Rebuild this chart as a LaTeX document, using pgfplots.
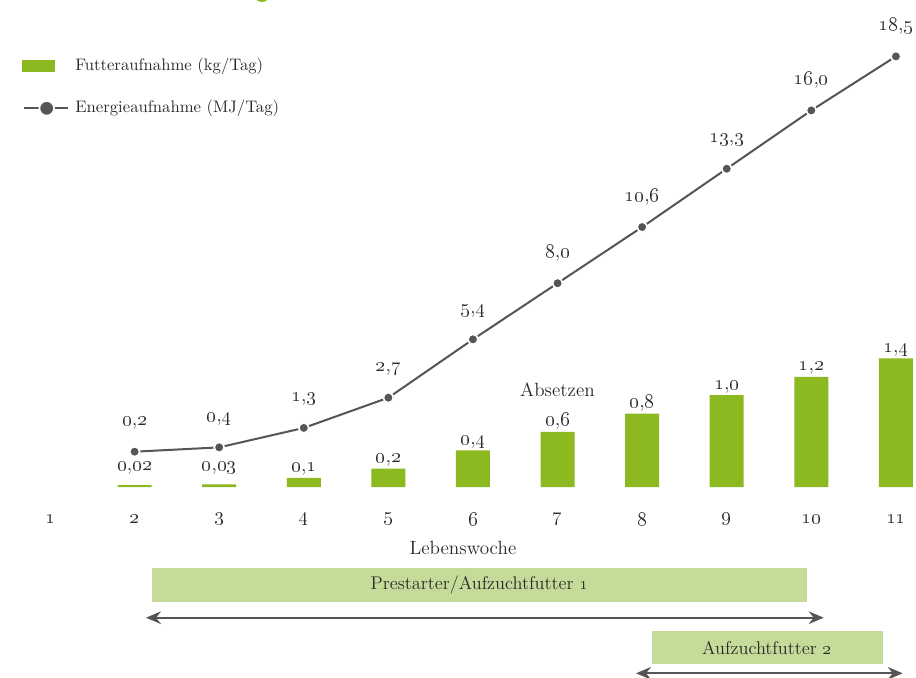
\documentclass[border=0pt]{standalone}
\usepackage{pgfplots}
\pgfplotsset{compat=1.18}
\usetikzlibrary{arrows.meta}
\definecolor{barGreen}{HTML}{8BB91F}
\definecolor{boxGreen}{HTML}{C5DB9A}
\definecolor{lineGray}{HTML}{555555}
\definecolor{txt}{HTML}{2A2A2A}
\newcommand\os[1]{\oldstylenums{#1}}
\newcommand\numfont{\fontsize{12}{14}\selectfont}
\newcommand\lblfont{\fontsize{11.5}{13}\selectfont}

\begin{document}
\begin{tikzpicture}[text=txt]
% bars: Futteraufnahme (kg/Tag)
\begin{axis}[
    scale only axis, width=545.6pt, height=268.2pt,
    xmin=0.45, xmax=11.2, ymin=0, ymax=4.869,
    axis x line*=bottom, axis y line=none,
    x axis line style={draw=none}, major tick length=0pt,
    xtick={1,...,11},
    xticklabels={\os{1},\os{2},\os{3},\os{4},\os{5},\os{6},\os{7},\os{8},\os{9},\os{10},\os{11}},
    xticklabel style={anchor=center, yshift=-19.2pt, font=\numfont, text=txt},
    xlabel={Lebenswoche},
    xlabel style={at={(axis description cs:0.5053,0)}, anchor=center, yshift=-36.6pt, font=\lblfont, text=txt},
    clip=false]
    \addplot[ybar, bar width=20.4pt, bar shift=0pt, fill=barGreen, draw=none,
        point meta=explicit symbolic, nodes near coords,
        every node near coord/.append style={anchor=base, inner sep=0pt, yshift=3.6pt, font=\numfont, text=txt}]
        coordinates {
            (2,0.02) [\relax]
            (3,0.03) [\relax]
            (4,0.1) [\os{0},\os{1}]
            (5,0.2) [\os{0},\os{2}]
            (6,0.4) [\os{0},\os{4}]
            (7,0.6) [\os{0},\os{6}]
            (8,0.8) [\os{0},\os{8}]
            (9,1.0) [\os{1},\os{0}]
            (10,1.2) [\os{1},\os{2}]
            (11,1.4) [\os{1},\os{4}]
        };
    % labels of the two smallest bars sit higher
    \addplot[draw=none, mark=none,
        point meta=explicit symbolic, nodes near coords,
        every node near coord/.append style={anchor=base, inner sep=0pt, yshift=3.6pt, font=\numfont, text=txt}]
        coordinates {
            (2,0.11) [\os{0},\os{02}]
            (3,0.11) [\os{0},\os{03}]
        };
\end{axis}
% line: Energieaufnahme (MJ/Tag)
\begin{axis}[
    scale only axis, width=545.6pt, height=268.2pt,
    xmin=0.45, xmax=11.2, ymin=-1.435, ymax=19.259,
    hide axis, clip=false]
    \addplot[color=lineGray, line width=1.2pt, mark=*, mark size=3pt,
        mark options={fill=lineGray, draw=white, line width=1pt},
        point meta=explicit symbolic, nodes near coords,
        every node near coord/.append style={anchor=base, inner sep=0pt, yshift=15.6pt, font=\numfont, text=txt}]
        coordinates {
            (2,0.2) [\os{0},\os{2}]
            (3,0.4) [\os{0},\os{4}]
            (4,1.3) [\os{1},\os{3}]
            (5,2.7) [\os{2},\os{7}]
            (6,5.4) [\os{5},\os{4}]
            (7,8.0) [\os{8},\os{0}]
            (8,10.6) [\os{10},\os{6}]
            (9,13.3) [\os{13},\os{3}]
            (10,16.0) [\os{16},\os{0}]
            (11,18.5) [\os{18},\os{5}]
        };
\end{axis}
% annotations in reference pixel units
\begin{scope}[x=0.6pt, y=-0.6pt, shift={(-3.5,-487)}]
    \fill[barGreen] (262,-6) circle[radius=4.8pt];
    % legend
    \fill[barGreen] (21.7,60) rectangle (55,71.7);
    \node[anchor=base west, inner sep=0pt, font=\fontsize{10}{12}\selectfont] at (75,71) {Futteraufnahme (kg/Tag)};
    \draw[lineGray, line width=1.2pt] (24.3,108.3) -- (68.3,108.3);
    \fill[lineGray, draw=white, line width=1pt] (46.7,108.3) circle[radius=4.4pt];
    \node[anchor=base west, inner sep=0pt, font=\fontsize{10}{12}\selectfont] at (75,113) {Energieaufnahme (MJ/Tag)};
    % Absetzen
    \node[anchor=base, inner sep=0pt, font=\lblfont] at (557.5,396) {Absetzen};
    % feed phases
    \fill[boxGreen] (152.3,568.3) rectangle (807,601.7);
    \node[font=\fontsize{11}{13}\selectfont] at (479.6,585) {Prestarter/Aufzuchtfutter \os{1}};
    \draw[lineGray, line width=1.2pt, {Stealth[length=9pt,width=7.6pt,inset=3pt]}-{Stealth[length=9pt,width=7.6pt,inset=3pt]}] (146,617.7) -- (823.7,617.7);
    \fill[boxGreen] (651.7,631) rectangle (882.7,664.3);
    \node[font=\fontsize{11}{13}\selectfont] at (767,647.7) {Aufzuchtfutter \os{2}};
    \draw[lineGray, line width=1.2pt, {Stealth[length=9pt,width=7.6pt,inset=3pt]}-{Stealth[length=9pt,width=7.6pt,inset=3pt]}] (636,673.3) -- (902.7,673.3);
    \pgfresetboundingbox
    \path[use as bounding box] (0,0) rectangle (916,677);
\end{scope}
\end{tikzpicture}
\end{document}
